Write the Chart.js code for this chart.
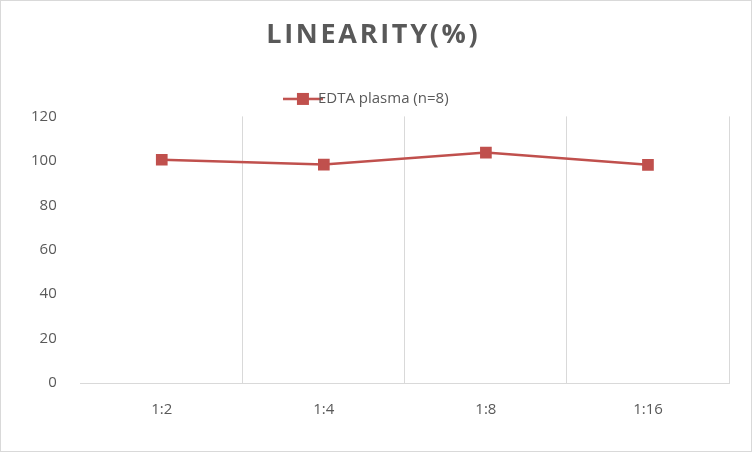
<!DOCTYPE html>
<html><head><meta charset="utf-8">
<script src="https://cdn.jsdelivr.net/npm/chart.js@4"></script>
<style>html,body{margin:0;padding:0;background:#fff}#w{width:750px;height:450px;border:1px solid #d9d9d9;position:relative}</style>
</head><body><div id="w"><canvas id="c"></canvas></div>
<script>
const categories=["1:2","1:4","1:8","1:16"];
const seriesName="EDTA plasma (n=8)";
const values=[100.5,98.3,103.7,98.2];
const yTicks=[0,20,40,60,80,100,120];
const icon=document.createElement('canvas');icon.width=40;icon.height=14;
const ic=icon.getContext('2d');ic.strokeStyle='#c0504d';ic.lineWidth=2.5;ic.beginPath();ic.moveTo(0,7);ic.lineTo(40,7);ic.stroke();ic.fillStyle='#c0504d';ic.fillRect(14,1,12,12);
new Chart(document.getElementById('c'),{type:'line',
data:{labels:categories,datasets:[{label:seriesName,data:values,borderColor:'#c0504d',backgroundColor:'#c0504d',borderWidth:2.5,pointStyle:'rect',pointRadius:6.5,pointHoverRadius:6.5}]},
options:{responsive:true,maintainAspectRatio:false,animation:false,
layout:{padding:{left:14,right:22,top:12,bottom:14}},
plugins:{title:{display:true,text:'L I N E A R I T Y ( % )'.replace(/ /g,'\u200A'),color:'#595959',font:{family:'Open Sans',size:27,weight:'bold'},padding:{top:6,bottom:20}},
legend:{labels:{color:'#595959',font:{family:'Open Sans',size:15},usePointStyle:true,generateLabels:ch=>[{text:seriesName,pointStyle:icon,fontColor:'#595959',datasetIndex:0,lineWidth:0}],padding:20}},tooltip:{enabled:false}},
scales:{x:{offset:true,grid:{offset:true,color:c=>(c.index===0||c.index===categories.length)?'rgba(0,0,0,0)':'#d9d9d9',drawTicks:false},border:{color:'#d9d9d9'},ticks:{color:'#595959',font:{family:'Open Sans',size:15},padding:18}},
y:{min:0,max:120,afterBuildTicks:a=>{a.ticks=yTicks.map(v=>({value:v}))},grid:{display:false},border:{display:false},ticks:{color:'#595959',font:{family:'Open Sans',size:15},padding:16}}}}});
</script></body></html>
